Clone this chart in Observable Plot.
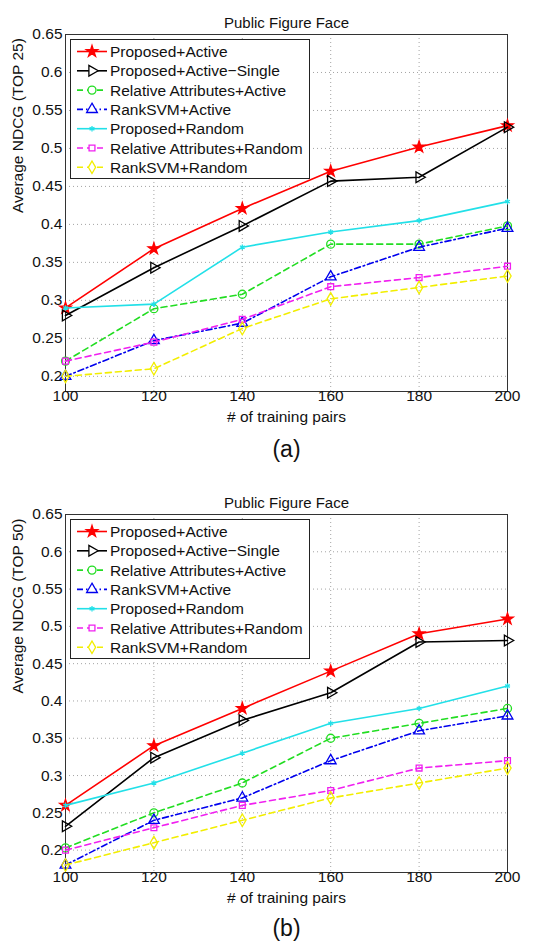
<!DOCTYPE html>
<html><head><meta charset="utf-8">
<script src="https://cdn.jsdelivr.net/npm/d3@7"></script>
<script src="https://cdn.jsdelivr.net/npm/@observablehq/plot@0.6"></script>
<style>
body{margin:0;background:#fff;font-family:"Liberation Sans",Arial,sans-serif;}
#wrap{position:relative;width:535px;height:950px;overflow:hidden;}
.panel{position:absolute;left:0;width:535px;}
.panel svg{position:absolute;left:0;top:0;}
</style></head><body><div id="wrap"></div>
<script>
const pairs = [100, 120, 140, 160, 180, 200];
const yTicks = [0.2, 0.25, 0.3, 0.35, 0.4, 0.45, 0.5, 0.55, 0.6, 0.65];
const seriesNames = ["Proposed+Active", "Proposed+Active\u2212Single", "Relative Attributes+Active", "RankSVM+Active", "Proposed+Random", "Relative Attributes+Random", "RankSVM+Random"];

// (a) TOP 25
const a_proposedActive   = [0.290, 0.368, 0.421, 0.470, 0.502, 0.530];
const a_proposedSingle   = [0.280, 0.343, 0.398, 0.457, 0.462, 0.528];
const a_relAttrActive    = [0.220, 0.289, 0.308, 0.374, 0.374, 0.398];
const a_rankSVMActive    = [0.200, 0.247, 0.270, 0.331, 0.370, 0.395];
const a_proposedRandom   = [0.290, 0.295, 0.370, 0.390, 0.405, 0.430];
const a_relAttrRandom    = [0.220, 0.245, 0.275, 0.318, 0.330, 0.345];
const a_rankSVMRandom    = [0.200, 0.210, 0.263, 0.302, 0.317, 0.332];

// (b) TOP 50
const b_proposedActive   = [0.260, 0.340, 0.390, 0.440, 0.490, 0.510];
const b_proposedSingle   = [0.232, 0.324, 0.374, 0.411, 0.479, 0.481];
const b_relAttrActive    = [0.203, 0.250, 0.290, 0.350, 0.370, 0.390];
const b_rankSVMActive    = [0.180, 0.240, 0.270, 0.320, 0.360, 0.380];
const b_proposedRandom   = [0.260, 0.290, 0.330, 0.370, 0.390, 0.420];
const b_relAttrRandom    = [0.200, 0.230, 0.260, 0.280, 0.310, 0.320];
const b_rankSVMRandom    = [0.180, 0.210, 0.240, 0.270, 0.290, 0.310];

const styles = [
  {color:"#ff0000", dash:null,        symbol:"star",     r:3.6, fill:"#ff0000", rotate:0},
  {color:"#000000", dash:null,        symbol:"triangle", r:4,   fill:"none",    rotate:90},
  {color:"#22dd22", dash:"6,4",       symbol:"circle",   r:4,   fill:"none",    rotate:0},
  {color:"#0000ee", dash:"6,3,1.5,3", symbol:"triangle", r:4,   fill:"none",    rotate:0},
  {color:"#22e0e8", dash:null,        symbol:"asterisk", r:2.6, fill:"none",    rotate:0},
  {color:"#f020f0", dash:"6,4",       symbol:"square",   r:3.3, fill:"none",    rotate:0},
  {color:"#f2ee00", dash:"6,4",       symbol:"diamond",  r:3.8, fill:"none",    rotate:0}
];
const symMap = {star:d3.symbolStar, triangle:d3.symbolTriangle, circle:d3.symbolCircle, asterisk:d3.symbolAsterisk, square:d3.symbolSquare, diamond:d3.symbolDiamond};
const FONT = "'Liberation Sans', Arial, sans-serif";

function makePanel({top, height, marginTop, marginBottom, yMin, values, yLabel, caption}) {
  const rows = [];
  values.forEach((arr, i) => arr.forEach((v, j) => rows.push({x: pairs[j], y: v, s: i})));
  const marks = [
    Plot.gridX(pairs, {stroke:"#999", strokeOpacity:0.9, strokeDasharray:"1,3"}),
    Plot.gridY(yTicks.filter(t => t >= yMin), {stroke:"#999", strokeOpacity:0.9, strokeDasharray:"1,3"}),
    Plot.frame({stroke:"#333", strokeWidth:1})
  ];
  styles.forEach((st, i) => {
    const d = rows.filter(r => r.s === i);
    marks.push(Plot.line(d, {x:"x", y:"y", stroke:st.color, strokeWidth:1.6, strokeDasharray:st.dash}));
    marks.push(Plot.dot(d, {x:"x", y:"y", symbol:st.symbol, r:st.r, stroke:st.color, fill:st.fill, rotate:st.rotate, strokeWidth:1.3}));
  });
  marks.push(
    Plot.axisX(pairs, {tickSize:0, tickPadding:-2, fontSize:15.5, label:null}),
    Plot.axisY(yTicks.filter(t => t >= yMin), {tickSize:0, tickPadding:3, fontSize:15.5, label:null, tickFormat: d => String(+d.toFixed(2))}),
    Plot.text(["Public Figure Face"], {frameAnchor:"top", dy:-17, fontSize:15, fill:"#111"}),
    Plot.text(["# of training pairs"], {frameAnchor:"bottom", dy:30, fontSize:15.5, fill:"#111"}),
    Plot.text([yLabel], {frameAnchor:"left", dx:-47, rotate:-90, fontSize:15.5, fill:"#111"}),
    Plot.text([caption], {frameAnchor:"bottom", dy:caption === "(a)" ? 65 : 63, fontSize:23, fill:"#111"})
  );
  const plot = Plot.plot({
    width:535, height, marginLeft:65, marginRight:28, marginTop, marginBottom,
    style:{fontFamily:FONT, color:"#111", background:"#fff", overflow:"visible"},
    x:{domain:[100, 200]},
    y:{domain:[yMin, 0.65]},
    marks
  });
  const div = document.createElement("div");
  div.className = "panel";
  div.style.top = top + "px";
  div.style.height = height + "px";
  div.appendChild(plot);

  // legend overlay built from series names and styles
  const lx = 70, ly = marginTop + 5, lw = 239, lh = 139;
  const svg = d3.create("svg").attr("width", 535).attr("height", height).style("pointer-events","none");
  const g = svg.append("g");
  g.append("rect").attr("x", lx + 0.5).attr("y", ly + 0.5).attr("width", lw).attr("height", lh)
    .attr("fill", "#fff").attr("stroke", "#222").attr("stroke-width", 1);
  seriesNames.forEach((name, i) => {
    const st = styles[i];
    const yy = ly + 12.5 + i * 19.3;
    g.append("line").attr("x1", lx + 7).attr("x2", lx + 37).attr("y1", yy).attr("y2", yy)
      .attr("stroke", st.color).attr("stroke-width", 1.6).attr("stroke-dasharray", st.dash);
    g.append("path").attr("d", d3.symbol(symMap[st.symbol], Math.PI * st.r * st.r)())
      .attr("transform", `translate(${lx + 22},${yy}) rotate(${st.rotate})`)
      .attr("fill", st.fill === "none" ? "#fff" : st.fill).attr("stroke", st.color).attr("stroke-width", 1.3);
    g.append("text").attr("x", lx + 40).attr("y", yy).attr("dy", "0.36em")
      .attr("font-family", FONT).attr("font-size", 15.5).attr("fill", "#111").text(name);
  });
  div.appendChild(svg.node());
  document.getElementById("wrap").appendChild(div);
}

makePanel({top:0, height:470, marginTop:34, marginBottom:79, yMin:0.18,
  values:[a_proposedActive, a_proposedSingle, a_relAttrActive, a_rankSVMActive, a_proposedRandom, a_relAttrRandom, a_rankSVMRandom],
  yLabel:"Average NDCG (TOP 25)", caption:"(a)"});
makePanel({top:475, height:475, marginTop:39, marginBottom:78, yMin:0.17,
  values:[b_proposedActive, b_proposedSingle, b_relAttrActive, b_rankSVMActive, b_proposedRandom, b_relAttrRandom, b_rankSVMRandom],
  yLabel:"Average NDCG (TOP 50)", caption:"(b)"});
</script></body></html>
